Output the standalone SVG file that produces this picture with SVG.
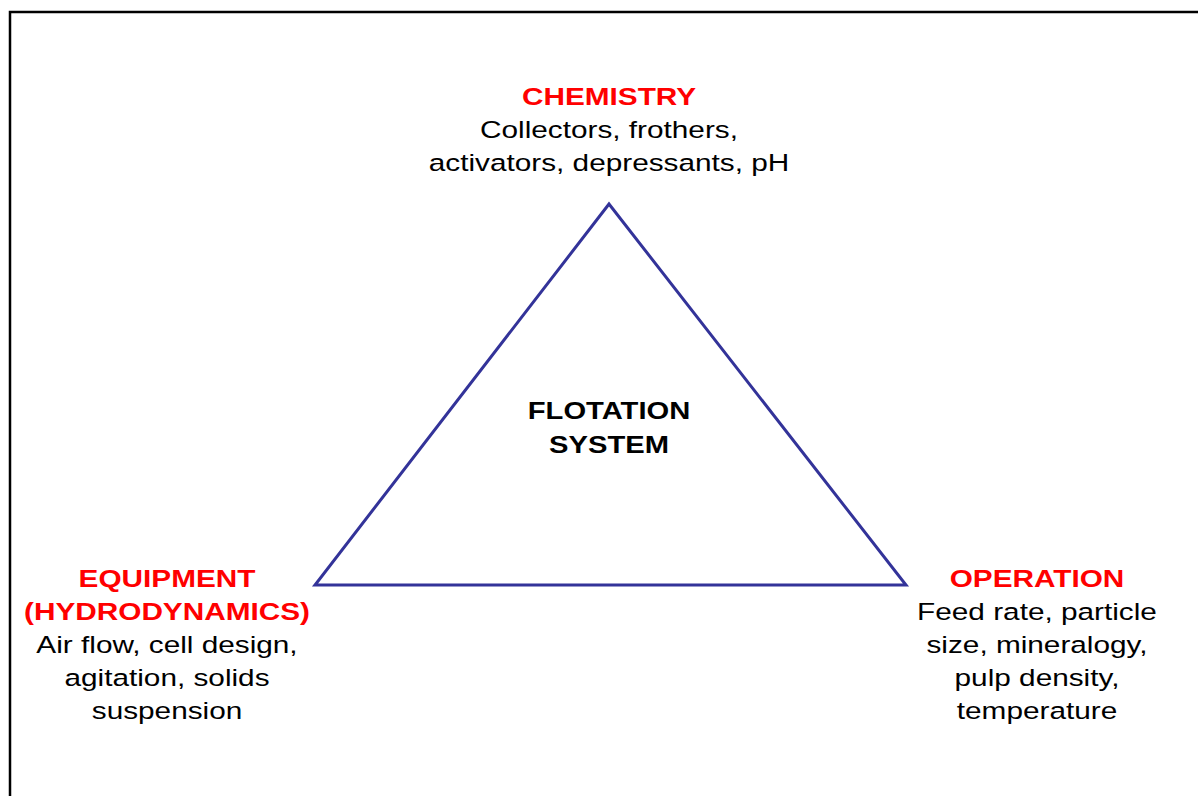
<svg xmlns="http://www.w3.org/2000/svg" width="1198" height="796" viewBox="0 0 1198 796">
  <style>
    text { font-family: "Liberation Sans", Arial, sans-serif; font-size: 24.3px; text-anchor: middle; }
    .title { font-weight: bold; fill: #FF0000; }
    .body { fill: #000000; }
    .center { font-weight: bold; fill: #000000; }
    .tri { fill: none; stroke: #333399; stroke-width: 3; stroke-linejoin: miter; }
  </style>
  <rect x="0" y="0" width="1198" height="796" fill="#FFFFFF"/>
  <rect x="10" y="12" width="1210" height="820" fill="none" stroke="#000000" stroke-width="2.5"/>
  <g id="connectors">
    <polygon class="tri" points="609,204 315,585 906,585"/>
  </g>
  <g id="flotation-system">
    <text class="center" transform="translate(609 419) scale(1.2 1)">FLOTATION</text>
    <text class="center" transform="translate(609 453) scale(1.2 1)">SYSTEM</text>
  </g>
  <g id="chemistry">
    <text class="title" transform="translate(609 105) scale(1.225 1)">CHEMISTRY</text>
    <text class="body" transform="translate(609 138) scale(1.225 1)">Collectors, frothers,</text>
    <text class="body" transform="translate(609 171) scale(1.225 1)">activators, depressants, pH</text>
  </g>
  <g id="equipment">
    <text class="title" transform="translate(167 587) scale(1.225 1)">EQUIPMENT</text>
    <text class="title" transform="translate(167 620) scale(1.225 1)">(HYDRODYNAMICS)</text>
    <text class="body" transform="translate(167 653) scale(1.225 1)">Air flow, cell design,</text>
    <text class="body" transform="translate(167 686) scale(1.225 1)">agitation, solids</text>
    <text class="body" transform="translate(167 719) scale(1.225 1)">suspension</text>
  </g>
  <g id="operation">
    <text class="title" transform="translate(1037 587) scale(1.225 1)">OPERATION</text>
    <text class="body" transform="translate(1037 620) scale(1.225 1)">Feed rate, particle</text>
    <text class="body" transform="translate(1037 653) scale(1.225 1)">size, mineralogy,</text>
    <text class="body" transform="translate(1037 686) scale(1.225 1)">pulp density,</text>
    <text class="body" transform="translate(1037 719) scale(1.225 1)">temperature</text>
  </g>
</svg>
